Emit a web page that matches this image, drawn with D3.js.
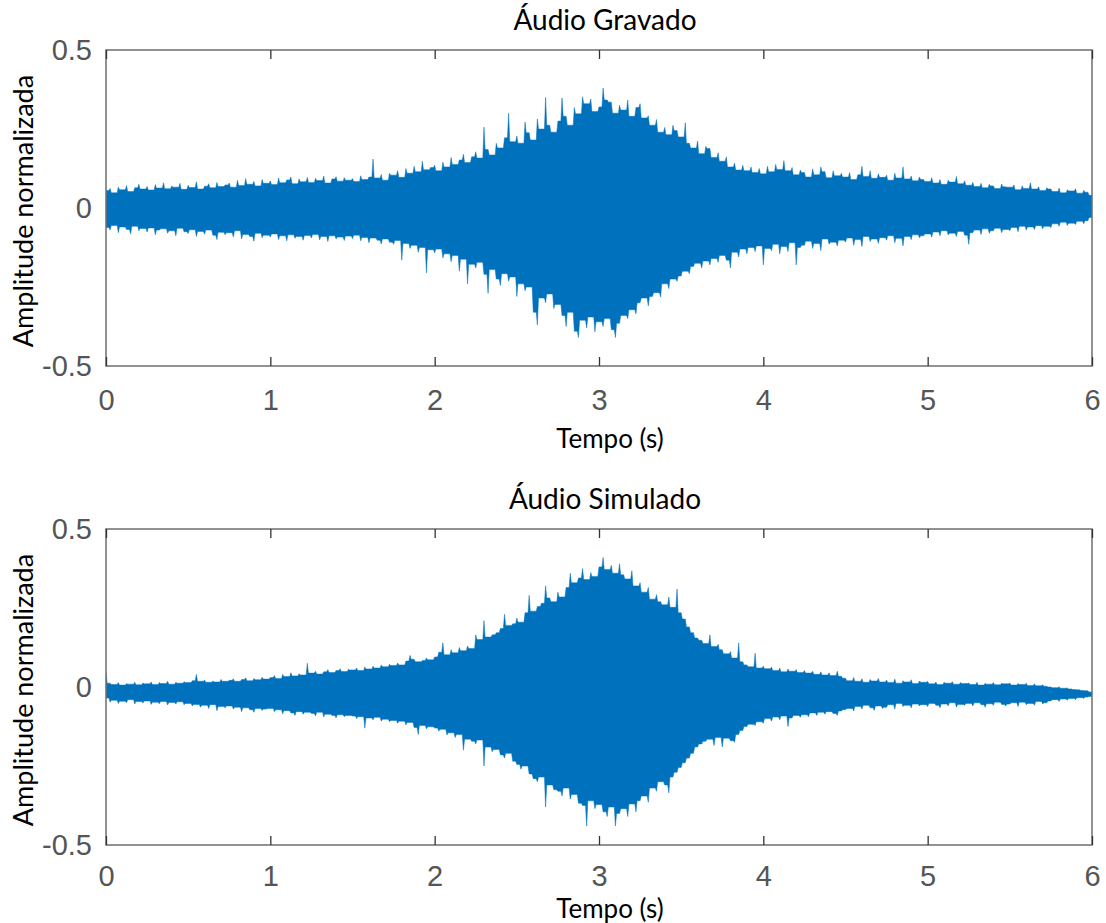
<!DOCTYPE html>
<html><head><meta charset="utf-8">
<script src="https://cdn.jsdelivr.net/npm/d3@7"></script>
<style>body{margin:0;background:#fff} svg{display:block}</style>
</head><body>
<svg id="chart" width="1106" height="923"></svg>
<script>
// ---------- data ----------
const xTicks = [0, 1, 2, 3, 4, 5, 6];
const xTickLabels = ["0", "1", "2", "3", "4", "5", "6"];
const yTicks = [0.5, 0, -0.5];
const yTickLabels = ["0.5", "0", "-0.5"];
const titles = ["Áudio Gravado", "Áudio Simulado"];
const xLabel = "Tempo (s)";
const yLabel = "Amplitude normalizada";
const binStep = 0.025;   // seconds per min/max bin

// Áudio Gravado: per-bin maximum / minimum
const gravadoMax = [
0.055,0.062,0.048,0.066,0.058,0.071,0.052,0.064,0.075,0.060,
0.068,0.057,0.074,0.063,0.080,0.061,0.070,0.066,0.078,0.059,
0.072,0.065,0.083,0.060,0.069,0.077,0.064,0.081,0.068,0.073,
0.079,0.066,0.088,0.071,0.093,0.075,0.084,0.070,0.090,0.078,
0.086,0.074,0.095,0.080,0.089,0.098,0.077,0.092,0.083,0.097,
0.081,0.094,0.087,0.101,0.079,0.092,0.099,0.085,0.096,0.088,
0.093,0.084,0.102,0.090,0.098,0.155,0.095,0.106,0.088,0.110,
0.104,0.118,0.097,0.125,0.110,0.132,0.115,0.148,0.121,0.128,
0.135,0.118,0.145,0.130,0.160,0.138,0.152,0.170,0.144,0.162,
0.178,0.158,0.256,0.185,0.168,0.205,0.190,0.222,0.300,0.210,
0.228,0.205,0.272,0.238,0.215,0.282,0.250,0.350,0.262,0.240,
0.275,0.348,0.290,0.262,0.318,0.298,0.352,0.330,0.345,0.305,
0.320,0.380,0.342,0.335,0.300,0.325,0.310,0.342,0.290,0.318,
0.330,0.285,0.292,0.262,0.280,0.240,0.255,0.232,0.262,0.245,
0.225,0.270,0.205,0.190,0.212,0.172,0.195,0.188,0.160,0.175,
0.148,0.162,0.130,0.142,0.120,0.135,0.118,0.130,0.112,0.125,
0.108,0.132,0.115,0.138,0.122,0.150,0.118,0.128,0.105,0.120,
0.112,0.098,0.124,0.105,0.130,0.115,0.096,0.118,0.102,0.110,
0.098,0.112,0.090,0.105,0.132,0.100,0.118,0.094,0.108,0.097,
0.104,0.088,0.110,0.095,0.130,0.092,0.101,0.086,0.098,0.090,
0.084,0.096,0.079,0.090,0.075,0.088,0.082,0.100,0.077,0.086,
0.072,0.081,0.068,0.078,0.064,0.075,0.070,0.062,0.076,0.067,
0.066,0.073,0.058,0.070,0.062,0.080,0.060,0.067,0.055,0.064,
0.060,0.052,0.063,0.048,0.058,0.054,0.061,0.047,0.056,0.050,
0.040];
const gravadoMin = [
-0.062,-0.070,-0.055,-0.078,-0.060,-0.068,-0.082,-0.058,-0.072,-0.065,
-0.076,-0.063,-0.085,-0.070,-0.066,-0.080,-0.072,-0.088,-0.064,-0.075,
-0.081,-0.069,-0.090,-0.074,-0.083,-0.070,-0.086,-0.100,-0.077,-0.085,
-0.078,-0.092,-0.072,-0.098,-0.084,-0.090,-0.105,-0.080,-0.094,-0.086,
-0.092,-0.082,-0.100,-0.088,-0.104,-0.085,-0.096,-0.090,-0.102,-0.087,
-0.095,-0.084,-0.101,-0.090,-0.106,-0.088,-0.098,-0.092,-0.103,-0.089,
-0.097,-0.086,-0.104,-0.093,-0.110,-0.095,-0.102,-0.114,-0.098,-0.108,
-0.115,-0.103,-0.165,-0.112,-0.128,-0.118,-0.140,-0.125,-0.205,-0.132,
-0.142,-0.130,-0.158,-0.145,-0.170,-0.150,-0.200,-0.162,-0.240,-0.178,
-0.190,-0.172,-0.210,-0.270,-0.195,-0.225,-0.245,-0.208,-0.232,-0.218,
-0.280,-0.240,-0.262,-0.250,-0.330,-0.370,-0.285,-0.300,-0.272,-0.318,
-0.305,-0.340,-0.375,-0.330,-0.390,-0.410,-0.355,-0.380,-0.345,-0.392,
-0.360,-0.375,-0.350,-0.385,-0.410,-0.365,-0.340,-0.350,-0.322,-0.335,
-0.300,-0.285,-0.310,-0.280,-0.268,-0.282,-0.240,-0.255,-0.225,-0.232,
-0.215,-0.200,-0.208,-0.185,-0.175,-0.190,-0.168,-0.180,-0.160,-0.172,
-0.150,-0.165,-0.190,-0.140,-0.155,-0.130,-0.145,-0.125,-0.138,-0.120,
-0.180,-0.128,-0.135,-0.115,-0.145,-0.122,-0.138,-0.110,-0.180,-0.125,
-0.118,-0.105,-0.128,-0.112,-0.135,-0.098,-0.115,-0.108,-0.120,-0.102,
-0.108,-0.095,-0.118,-0.100,-0.122,-0.090,-0.106,-0.098,-0.112,-0.094,
-0.102,-0.088,-0.110,-0.096,-0.120,-0.090,-0.100,-0.085,-0.094,-0.088,
-0.082,-0.092,-0.076,-0.088,-0.072,-0.085,-0.080,-0.090,-0.074,-0.086,
-0.115,-0.078,-0.070,-0.084,-0.066,-0.080,-0.072,-0.064,-0.078,-0.068,
-0.072,-0.062,-0.075,-0.058,-0.070,-0.060,-0.068,-0.056,-0.066,-0.058,
-0.062,-0.050,-0.058,-0.045,-0.055,-0.048,-0.052,-0.042,-0.050,-0.040,
-0.030];

// Áudio Simulado: per-bin maximum / minimum
const simuladoMax = [
0.045,0.012,0.008,0.014,0.006,0.011,0.009,0.015,0.007,0.013,
0.010,0.016,0.008,0.014,0.011,0.018,0.009,0.015,0.012,0.017,
0.014,0.020,0.040,0.018,0.022,0.015,0.019,0.016,0.024,0.018,
0.021,0.026,0.018,0.024,0.029,0.020,0.027,0.023,0.031,0.025,
0.030,0.036,0.027,0.040,0.033,0.045,0.035,0.042,0.038,0.075,
0.044,0.050,0.041,0.048,0.055,0.046,0.052,0.058,0.049,0.056,
0.054,0.060,0.052,0.063,0.057,0.066,0.060,0.070,0.064,0.072,
0.068,0.076,0.070,0.082,0.100,0.088,0.080,0.084,0.092,0.086,
0.095,0.110,0.140,0.102,0.118,0.108,0.125,0.115,0.130,0.122,
0.165,0.150,0.210,0.158,0.165,0.172,0.185,0.230,0.195,0.200,
0.218,0.205,0.235,0.290,0.240,0.255,0.265,0.320,0.282,0.270,
0.300,0.285,0.315,0.360,0.330,0.345,0.375,0.340,0.362,0.350,
0.380,0.410,0.372,0.385,0.360,0.390,0.355,0.342,0.368,0.320,
0.330,0.300,0.315,0.278,0.292,0.270,0.260,0.285,0.252,0.310,
0.235,0.215,0.190,0.172,0.155,0.148,0.138,0.165,0.128,0.135,
0.118,0.105,0.112,0.092,0.140,0.080,0.070,0.064,0.107,0.060,
0.066,0.058,0.063,0.052,0.060,0.048,0.057,0.050,0.055,0.046,
0.052,0.044,0.050,0.040,0.048,0.038,0.045,0.036,0.050,0.034,
0.028,0.020,0.030,0.018,0.026,0.015,0.024,0.019,0.027,0.016,
0.022,0.014,0.025,0.012,0.020,0.016,0.023,0.011,0.019,0.015,
0.018,0.010,0.016,0.008,0.015,0.012,0.017,0.009,0.014,0.011,
0.013,0.008,0.015,0.006,0.012,0.009,0.014,0.007,0.012,0.010,
0.013,0.006,0.011,0.008,0.012,0.005,0.010,0.004,0.007,0.002,
0.000,-0.002,0.001,-0.004,-0.003,-0.006,-0.008,-0.009,-0.011,-0.012,
-0.016];
const simuladoMin = [
-0.035,-0.048,-0.042,-0.052,-0.045,-0.050,-0.040,-0.054,-0.046,-0.051,
-0.044,-0.055,-0.048,-0.053,-0.046,-0.057,-0.049,-0.054,-0.047,-0.056,
-0.052,-0.060,-0.055,-0.064,-0.058,-0.068,-0.056,-0.075,-0.062,-0.066,
-0.060,-0.070,-0.064,-0.078,-0.066,-0.072,-0.080,-0.068,-0.074,-0.070,
-0.068,-0.078,-0.072,-0.085,-0.075,-0.082,-0.090,-0.078,-0.086,-0.080,
-0.084,-0.092,-0.080,-0.095,-0.086,-0.090,-0.098,-0.088,-0.094,-0.090,
-0.092,-0.100,-0.094,-0.130,-0.098,-0.104,-0.096,-0.108,-0.102,-0.110,
-0.106,-0.115,-0.108,-0.120,-0.112,-0.128,-0.150,-0.122,-0.132,-0.126,
-0.130,-0.140,-0.134,-0.152,-0.145,-0.160,-0.150,-0.200,-0.165,-0.172,
-0.180,-0.168,-0.250,-0.190,-0.205,-0.198,-0.215,-0.225,-0.210,-0.235,
-0.245,-0.260,-0.250,-0.275,-0.290,-0.300,-0.285,-0.380,-0.310,-0.325,
-0.330,-0.345,-0.320,-0.355,-0.340,-0.368,-0.375,-0.440,-0.360,-0.385,
-0.372,-0.395,-0.410,-0.380,-0.440,-0.400,-0.385,-0.410,-0.370,-0.395,
-0.360,-0.345,-0.365,-0.320,-0.330,-0.300,-0.310,-0.335,-0.285,-0.270,
-0.255,-0.240,-0.225,-0.210,-0.190,-0.180,-0.172,-0.165,-0.185,-0.160,
-0.190,-0.162,-0.170,-0.175,-0.150,-0.138,-0.125,-0.118,-0.122,-0.110,
-0.115,-0.100,-0.108,-0.095,-0.104,-0.092,-0.125,-0.098,-0.090,-0.096,
-0.088,-0.094,-0.082,-0.090,-0.080,-0.086,-0.078,-0.084,-0.090,-0.076,
-0.072,-0.068,-0.076,-0.062,-0.070,-0.058,-0.066,-0.074,-0.060,-0.068,
-0.064,-0.056,-0.070,-0.052,-0.062,-0.058,-0.066,-0.054,-0.060,-0.056,
-0.062,-0.052,-0.058,-0.066,-0.054,-0.060,-0.050,-0.064,-0.055,-0.058,
-0.052,-0.060,-0.050,-0.056,-0.064,-0.053,-0.058,-0.048,-0.055,-0.060,
-0.054,-0.050,-0.062,-0.048,-0.056,-0.052,-0.058,-0.046,-0.054,-0.050,
-0.044,-0.040,-0.046,-0.038,-0.042,-0.036,-0.040,-0.034,-0.036,-0.032,
-0.030];

// ---------- drawing ----------
const svg = d3.select("#chart");
const left = 106, right = 1092, plotH = 316;
const color = "#0072BD";
const panels = [
  {top: 50,  title: titles[0], max: gravadoMax,  min: gravadoMin,  xlabOff: 82, tickPad: 23},
  {top: 529, title: titles[1], max: simuladoMax, min: simuladoMin, xlabOff: 72.5, tickPad: 20}
];

// Edge of a min/max envelope drawn as narrow spikes: each bin value is a
// peak at its own time; around it the edge falls back to the nearer-to-zero
// neighbour, so single-bin peaks show as thin needles.
function spikeEdge(vals, pick) {
  const q = binStep * 0.28, n = vals.length, out = [];
  vals.forEach((v, i) => {
    const t = i * binStep;
    if (i > 0) out.push({t: t - q, v: pick(vals[i - 1], v)});
    out.push({t: t, v: v});
    if (i < n - 1) out.push({t: t + q, v: pick(v, vals[i + 1])});
  });
  return out;
}

panels.forEach((p, k) => {
  const x = d3.scaleLinear().domain([0, 6]).range([left, right]);
  const y = d3.scaleLinear().domain([-0.5, 0.5]).range([p.top + plotH, p.top]);
  const g = svg.append("g");

  const clipId = "clip" + k;
  svg.append("clipPath").attr("id", clipId).append("rect")
    .attr("x", left).attr("y", p.top).attr("width", right - left).attr("height", plotH);
  const plot = g.append("g").attr("clip-path", `url(#${clipId})`);

  const upper = spikeEdge(p.max, Math.min);
  const lower = spikeEdge(p.min, Math.max);
  const line = d3.line().x(d => x(d.t)).y(d => y(d.v));
  const d = line(upper) + "L" + line(lower.slice().reverse()).slice(1) + "Z";
  plot.append("path").attr("d", d)
    .attr("fill", color).attr("stroke", color).attr("stroke-width", 0.5)
    .attr("stroke-linejoin", "miter");

  // box
  g.append("rect").attr("x", left).attr("y", p.top).attr("width", right - left).attr("height", plotH)
    .attr("fill", "none").attr("stroke", "#6e6e6e").attr("stroke-width", 1.5);

  // bottom axis (inward ticks + labels)
  const xb = g.append("g").attr("transform", `translate(0,${p.top + plotH})`)
    .call(d3.axisBottom(x).tickValues(xTicks).tickFormat((d, i) => xTickLabels[i])
      .tickSizeInner(-9).tickSizeOuter(0).tickPadding(p.tickPad));
  xb.select(".domain").remove();
  xb.selectAll(".tick line").attr("stroke", "#333").attr("stroke-width", 1.3);
  xb.selectAll(".tick text").attr("font-family", "'Liberation Sans', Arial, sans-serif")
    .attr("font-size", 29).attr("fill", "#555");

  // top axis ticks only
  const xt = g.append("g").attr("transform", `translate(0,${p.top})`)
    .call(d3.axisTop(x).tickValues(xTicks).tickFormat("").tickSizeInner(-9).tickSizeOuter(0));
  xt.select(".domain").remove();
  xt.selectAll(".tick line").attr("stroke", "#333").attr("stroke-width", 1.3);

  // left axis labels
  const ya = g.append("g").attr("transform", `translate(${left},0)`)
    .call(d3.axisLeft(y).tickValues(yTicks).tickFormat((d, i) => yTickLabels[i])
      .tickSize(0).tickPadding(14));
  ya.select(".domain").remove();
  ya.selectAll(".tick text").attr("font-family", "'Liberation Sans', Arial, sans-serif")
    .attr("font-size", 29).attr("fill", "#555");

  // title
  g.append("text").attr("x", 605).attr("y", p.top - 20).attr("text-anchor", "middle")
    .attr("font-family", "Lato, sans-serif").attr("font-size", 28).attr("fill", "#000")
    .text(p.title);
  // x label
  g.append("text").attr("x", 610).attr("y", p.top + plotH + p.xlabOff).attr("text-anchor", "middle")
    .attr("font-family", "Lato, sans-serif").attr("font-size", 26).attr("fill", "#000")
    .text(xLabel);
  // y label
  g.append("text").attr("transform", `translate(33,${p.top + plotH / 2 + 3}) rotate(-90)`)
    .attr("text-anchor", "middle")
    .attr("font-family", "Lato, sans-serif").attr("font-size", 27).attr("fill", "#000")
    .text(yLabel);
});
</script>
</body></html>
